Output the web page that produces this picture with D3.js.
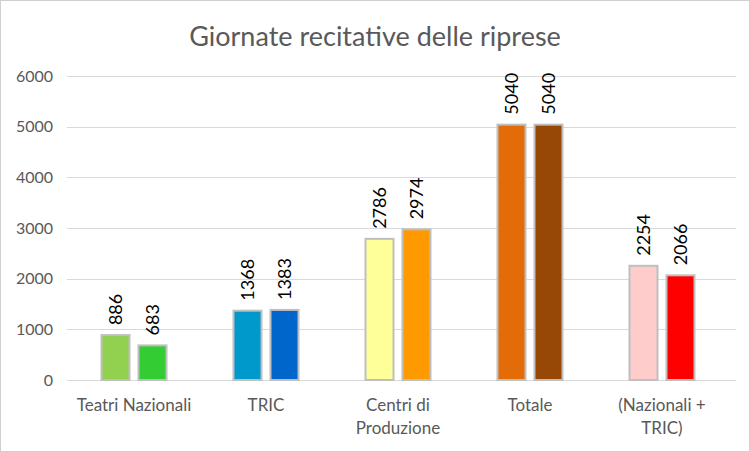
<!DOCTYPE html>
<html><head><meta charset="utf-8">
<script src="https://cdn.jsdelivr.net/npm/d3@7"></script>
<style>html,body{margin:0;padding:0;background:#fff;}svg{display:block;}</style>
</head><body>
<script>
const categories = ["Teatri Nazionali", "TRIC", "Centri di Produzione", "Totale", "(Nazionali + TRIC)"];
const categoryLines = [["Teatri Nazionali"], ["TRIC"], ["Centri di", "Produzione"], ["Totale"], ["(Nazionali +", "TRIC)"]];
const series1 = [886, 1368, 2786, 5040, 2254];
const series2 = [683, 1383, 2974, 5040, 2066];
const colors1 = ["#92D050", "#0099CC", "#FFFF99", "#E36C09", "#FFCCCC"];
const colors2 = ["#33CC33", "#0066CC", "#FF9900", "#974706", "#FF0000"];
const yTicks = [0, 1000, 2000, 3000, 4000, 5000, 6000];
const title = "Giornate recitative delle riprese";

const W = 750, H = 452;
const svg = d3.select("body").append("svg").attr("width", W).attr("height", H);
const font = "Lato, 'Open Sans', sans-serif";

svg.append("rect").attr("x", 0.5).attr("y", 0.5).attr("width", W - 1).attr("height", H - 1)
  .attr("fill", "#fff").attr("stroke", "#d0d0d0");

const x = d3.scaleBand().domain(categories).range([68, 728]);
const y = d3.scaleLinear().domain([0, 6000]).range([380, 76]);

// gridlines
svg.append("g").selectAll("line").data(yTicks).join("line")
  .attr("x1", 67).attr("x2", 736)
  .attr("y1", d => Math.round(y(d)) + 0.5).attr("y2", d => Math.round(y(d)) + 0.5)
  .attr("stroke", "#d9d9d9").attr("stroke-width", 1);

// y axis labels
svg.append("g").selectAll("text").data(yTicks).join("text")
  .attr("x", 53).attr("y", d => y(d)).attr("dy", "0.35em")
  .attr("text-anchor", "end").attr("font-family", font).attr("font-size", 16)
  .attr("fill", "#595959").text(d => d);

// title
svg.append("text").attr("x", 375).attr("y", 46).attr("text-anchor", "middle")
  .attr("font-family", font).attr("font-size", 27).attr("fill", "#595959").text(title);

const bw = 30, gap = 7;
const bars = [];
categories.forEach((c, i) => {
  const cx = x(c) + x.bandwidth() / 2;
  bars.push({ x0: cx - gap / 2 - bw, v: series1[i], col: colors1[i] });
  bars.push({ x0: cx + gap / 2, v: series2[i], col: colors2[i] });
});

svg.append("g").selectAll("rect").data(bars).join("rect")
  .attr("x", d => d.x0 + 1).attr("y", d => y(d.v))
  .attr("width", bw - 2).attr("height", d => y(0) - y(d.v))
  .attr("fill", d => d.col).attr("stroke", "#bfbfbf").attr("stroke-width", 2);

svg.append("g").selectAll("text").data(bars).join("text")
  .attr("transform", d => `translate(${d.x0 + bw / 2},${y(d.v) - 10}) rotate(-90)`)
  .attr("dy", "0.35em").attr("font-family", font).attr("font-size", 18)
  .attr("fill", "#000").text(d => d.v);

// category labels
const cg = svg.append("g").selectAll("text").data(categories).join("text")
  .attr("x", d => x(d) + x.bandwidth() / 2).attr("y", 411)
  .attr("text-anchor", "middle").attr("font-family", font).attr("font-size", 17)
  .attr("fill", "#595959");
cg.each(function(d, i) {
  const t = d3.select(this);
  categoryLines[i].forEach((ln, j) => {
    t.append("tspan").attr("x", x(d) + x.bandwidth() / 2).attr("dy", j === 0 ? 0 : 23).text(ln);
  });
});
</script>
</body></html>
